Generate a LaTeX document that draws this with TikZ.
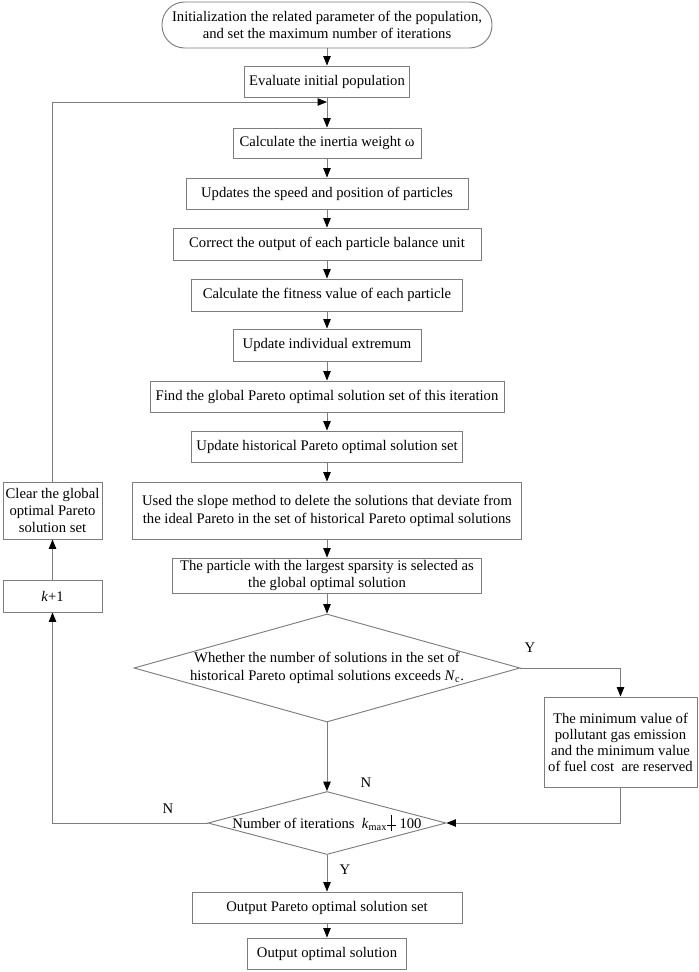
\documentclass[tikz,border=0pt]{standalone}
\usepackage{fontspec}
\setmainfont{Liberation Serif}
\usetikzlibrary{arrows.meta,shapes.geometric}
\definecolor{linegray}{RGB}{125,125,125}
\newcommand{\crossmark}{\ooalign{\hfil\rule[-0.35ex]{0.5pt}{2.4ex}\hfil\cr\rule[0.5ex]{0.6em}{0.5pt}\cr}}

\begin{document}
\begin{tikzpicture}
		[x=0.75pt,y=-0.75pt,
		 b/.style={draw=linegray,line width=0.7pt,align=center,inner sep=1pt,font=\fontsize{11}{13.5}\selectfont},
		 wh/.style 2 args={minimum width=#1*0.75pt,minimum height=#2*0.75pt},
		 d/.style={b,diamond,inner sep=0pt},
		 fwd/.style={draw=linegray,line width=0.7pt,-{Triangle[black,length=7pt,width=5.5pt]}},
		 bwd/.style={draw=linegray,line width=0.7pt,{Triangle[black,length=7pt,width=5.5pt]}-},
		 l/.style={font=\fontsize{11}{13}\selectfont}]

		\useasboundingbox (0,0) rectangle (699,972);

		\node[b,wh={330}{46},rounded corners=17pt,font=\fontsize{11}{12.5}\selectfont] (n0) at (327,25)
			{Initialization the related parameter of the population,\\and set the maximum number of iterations};

		\node[b,wh={165}{31}] (n1) at (327,81.5) {Evaluate initial population}
			edge [bwd]	(n0)
		;

		\node[b,wh={188}{30}] (n2) at (327,143) {Calculate the inertia weight ω}
			edge [bwd]	(n1)
		;

		\node[b,wh={282}{31}] (n3) at (327,193.5) {Updates the speed and position of particles}
			edge [bwd]	(n2)
		;

		\node[b,wh={308}{32}] (n4) at (327,244) {Correct the output of each particle balance unit}
			edge [bwd]	(n3)
		;

		\node[b,wh={271}{32}] (n5) at (327,295) {Calculate the fitness value of each particle}
			edge [bwd]	(n4)
		;

		\node[b,wh={188}{32}] (n6) at (327,345) {Update individual extremum}
			edge [bwd]	(n5)
		;

		\node[b,wh={354}{31}] (n7) at (327,396.5) {Find the global Pareto optimal solution set of this iteration}
			edge [bwd]	(n6)
		;

		\node[b,wh={271}{31}] (n8) at (327,446.5) {Update historical Pareto optimal solution set}
			edge [bwd]	(n7)
		;

		\node[b,wh={389}{57}] (n9) at (327,510.5)
			{Used the slope method to delete the solutions that deviate from\\the ideal Pareto in the set of historical Pareto optimal solutions}
			edge [bwd]	(n8)
		;

		\node[b,wh={309}{35},font=\fontsize{11}{12.5}\selectfont] (n10) at (327,575.5)
			{The particle with the largest sparsity is selected as\\the global optimal solution}
			edge [bwd]	(n9)
		;

		\node[d,wh={386}{108},aspect=3.57,inner xsep=-5pt] (d1) at (327,668)
			{Whether the number of solutions in the set of\\historical Pareto optimal solutions exceeds \textit{N}\textsubscript{c}.}
			edge [bwd]	(n10)
		;

		\node[b,wh={153}{90},font=\fontsize{11}{12}\selectfont] (keep) at (620.5,742)
			{The minimum value of\\pollutant gas emission\\and the minimum value\\of fuel cost\ \ are reserved};

		\node[d,wh={238}{63},aspect=3.78,inner xsep=-9pt,inner ysep=-2pt] (d2) at (327,823)
			{Number of iterations\ \ \textit{k}\textsubscript{max}\crossmark\ 100}
			edge [bwd]	(d1)
		;

		\node[b,wh={270}{31}] (out1) at (327,907.5) {Output Pareto optimal solution set}
			edge [bwd]	(d2)
		;

		\node[b,wh={159}{31}] (out2) at (327,953.5) {Output optimal solution}
			edge [bwd]	(out1)
		;

		\node[b,wh={99}{32}] (k1) at (52.5,596) {\textit{k}+1};

		\node[b,wh={99}{57},font=\fontsize{11}{13}\selectfont] (clr) at (52.5,510.5) {Clear the global\\optimal Pareto\\solution set}
			edge [bwd]	(k1)
		;

		\coordinate (join) at (327,102);

		\draw[fwd] (d1.east) -| (keep.north);
		\draw[fwd] (keep.south) |- (d2.east);
		\draw[fwd] (d2.west) -| (k1.south);
		\draw[fwd] (clr.north) |- (join);

		\node[l] (y1) at (530,648) {Y};
		\node[l] (n1lab) at (366,783) {N};
		\node[l] (n2lab) at (168,809) {N};
		\node[l] (y2) at (345,870) {Y};

	\end{tikzpicture}
\end{document}
